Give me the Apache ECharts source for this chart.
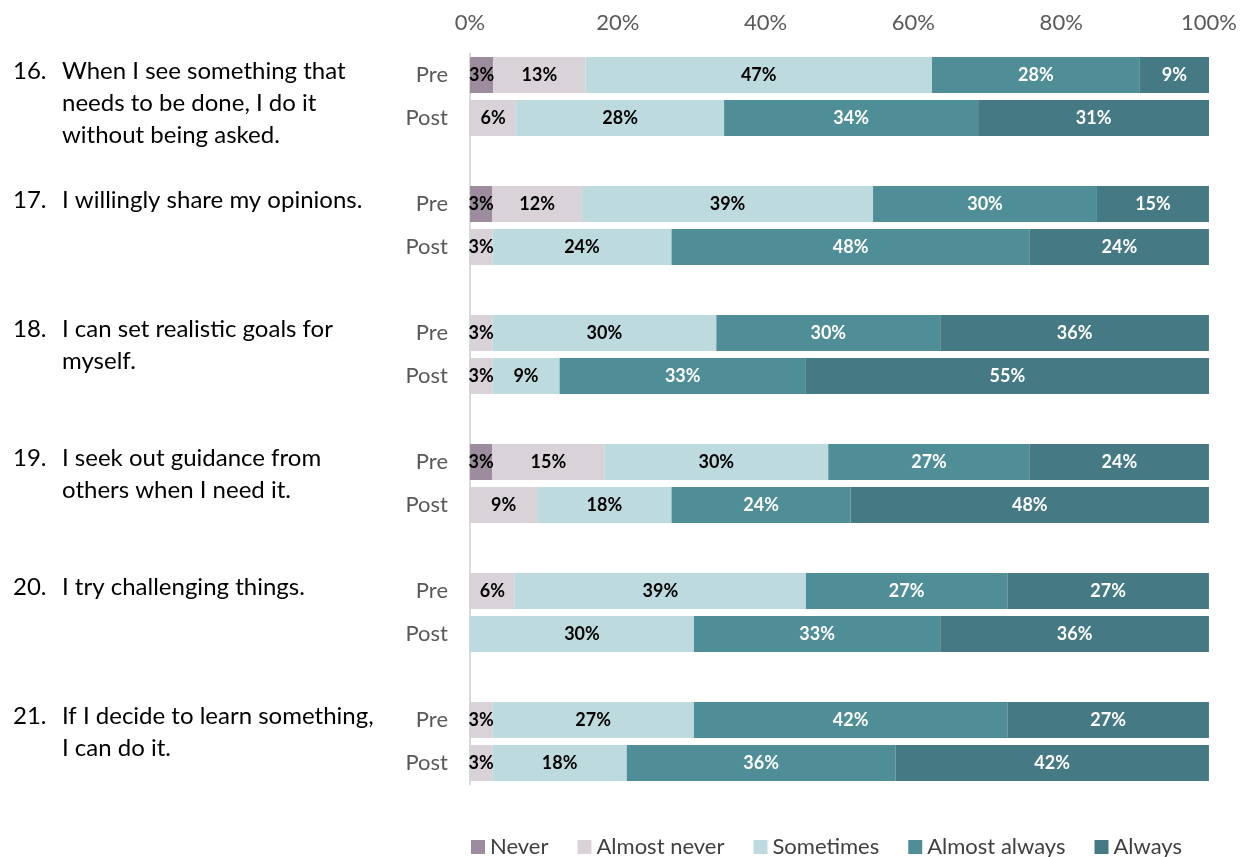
<!DOCTYPE html>
<html><head><meta charset="utf-8">
<script src="https://cdn.jsdelivr.net/npm/echarts@6/dist/echarts.min.js"></script>
<style>html,body{margin:0;padding:0;background:#fff}#c{width:1245px;height:857px}</style>
</head><body><div id="c"></div>
<script>
const questions = ['16.', '17.', '18.', '19.', '20.', '21.'];
const questionLines = [
  ['When I see something that', 'needs to be done, I do it', 'without being asked.'],
  ['I willingly share my opinions.'],
  ['I can set realistic goals for', 'myself.'],
  ['I seek out guidance from', 'others when I need it.'],
  ['I try challenging things.'],
  ['If I decide to learn something,', 'I can do it.']
];
const phases = ['Pre', 'Post'];
const seriesNames = ['Never', 'Almost never', 'Sometimes', 'Almost always', 'Always'];
// percentages per row, order: 16 Pre, 16 Post, 17 Pre, 17 Post, ... 21 Post
const never        = [3.13, 0, 3.03, 0, 0, 0, 3.03, 0, 0, 0, 0, 0];
const almostNever  = [12.5, 6.25, 12.12, 3.03, 3.03, 3.03, 15.15, 9.09, 6.06, 0, 3.03, 3.03];
const sometimes    = [46.88, 28.13, 39.39, 24.24, 30.30, 9.09, 30.30, 18.18, 39.39, 30.30, 27.27, 18.18];
const almostAlways = [28.13, 34.38, 30.30, 48.48, 30.30, 33.33, 27.27, 24.24, 27.27, 33.33, 42.42, 36.36];
const always       = [9.38, 31.25, 15.15, 24.24, 36.36, 54.55, 24.24, 48.48, 27.27, 36.36, 27.27, 42.42];
const tickLabels = ['0%', '20%', '40%', '60%', '80%', '100%'];
const colors = ['#9d8c9d', '#d9d3d9', '#bddbde', '#4f8e97', '#457983'];
const labelColors = ['#000', '#000', '#000', '#fff', '#fff'];

// category slots: Pre, Post, gap per question (no gap after the last one)
const cats = [];
const rowIndex = [];
questions.forEach((q, i) => {
  phases.forEach((p, j) => { cats.push(q + '|' + p); rowIndex.push(i * 2 + j); });
  if (i < questions.length - 1) { cats.push(q + '|gap'); rowIndex.push(-1); }
});
const allVals = [never, almostNever, sometimes, almostAlways, always];
const FONT = 'Lato';

const series = seriesNames.map((name, s) => ({
  name, type: 'bar', stack: 'total', barWidth: 36,
  itemStyle: { color: colors[s] },
  label: {
    show: true, color: labelColors[s], fontFamily: FONT, fontWeight: 'bold', fontSize: 18,
    formatter: p => (p.value ? Math.round(p.value) + '%' : '')
  },
  data: rowIndex.map(r => (r < 0 ? '-' : allVals[s][r]))
}));

const chart = echarts.init(document.getElementById('c'));
chart.setOption({
  animation: false,
  textStyle: { fontFamily: FONT },
  grid: { left: 470, right: 36, top: 53.5, height: 731, containLabel: false },
  xAxis: {
    type: 'value', position: 'top', min: 0, max: 100, interval: 20,
    axisLine: { show: false }, axisTick: { show: false }, splitLine: { show: false },
    axisLabel: { fontSize: 22, color: '#595959', margin: 20,
      formatter: v => tickLabels[Math.round(v / 20)] }
  },
  yAxis: {
    type: 'category', inverse: true, data: cats,
    axisLine: { show: true, lineStyle: { color: '#d9d9d9', width: 2 } },
    axisTick: { show: false },
    axisLabel: { fontSize: 22, color: '#595959', margin: 22,
      formatter: v => { const p = v.split('|')[1]; return p === 'gap' ? '' : p; } }
  },
  legend: {
    left: 466, top: 831, icon: 'rect', itemWidth: 14, itemHeight: 14, itemGap: 29,
    textStyle: { fontSize: 22, color: '#404040', fontFamily: FONT },
    data: seriesNames
  },
  series
});

// question labels positioned through the category axis
const graphics = [];
questions.forEach((q, i) => {
  const y = chart.convertToPixel({ yAxisIndex: 0 }, q + '|Pre');
  const top = y - 4 - 16;
  graphics.push({ type: 'text', left: 13, top: top,
    style: { text: q, font: '24px ' + FONT, fill: '#000', lineHeight: 32 } });
  graphics.push({ type: 'text', left: 62, top: top,
    style: { text: questionLines[i].join('\n'), font: '24px ' + FONT, fill: '#000', lineHeight: 32 } });
});
chart.setOption({ graphic: graphics });
</script></body></html>
